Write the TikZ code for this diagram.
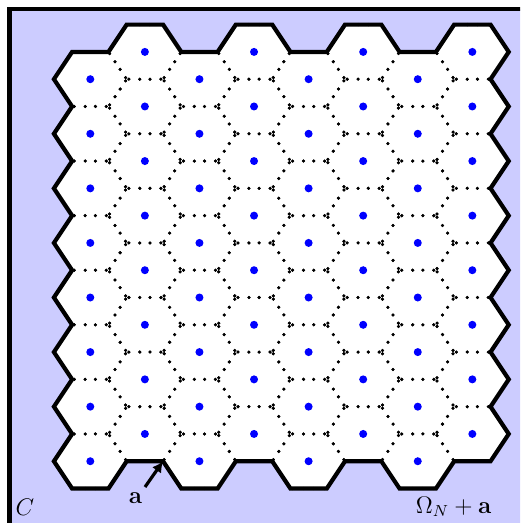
\documentclass[tikz,border=0pt]{standalone}
\usetikzlibrary{arrows.meta}
\definecolor{lav}{RGB}{204,204,255}
\begin{document}
\begin{tikzpicture}[x=0.5pt,y=-0.5pt,
  outline/.style={line width=2.1pt, line join=miter},
  site/.style={fill=blue},
  lbl/.style={font=\fontsize{12}{14}\selectfont, inner sep=0pt}]
\useasboundingbox (0,0) rectangle (520,523);
\clip (0,0) rectangle (520,523);
\filldraw[fill=lav, line width=2.1pt] (9.5,9) rectangle (560,560);
\begin{scope}[shift={(90.3,79.2)}, x=4.548pt, y=-4.548pt]
\def\myboundary{(-4,0) -- (-2,-3) -- (2,-3) -- (4,-6) -- (8,-6) -- (10,-3) -- (14,-3) -- (16,-6) -- (20,-6) -- (22,-3) -- (26,-3) -- (28,-6) -- (32,-6) -- (34,-3) -- (38,-3) -- (40,-6) -- (44,-6) -- (46,-3)
 -- (44,0) -- (46,3) -- (44,6) -- (46,9) -- (44,12) -- (46,15) -- (44,18) -- (46,21) -- (44,24) -- (46,27) -- (44,30) -- (46,33) -- (44,36) -- (46,39) -- (44,42)
 -- (40,42) -- (38,45) -- (34,45) -- (32,42) -- (28,42) -- (26,45) -- (22,45) -- (20,42) -- (16,42) -- (14,45) -- (10,45) -- (8,42) -- (4,42) -- (2,45) -- (-2,45) -- (-4,42)
 -- (-2,39) -- (-4,36) -- (-2,33) -- (-4,30) -- (-2,27) -- (-4,24) -- (-2,21) -- (-4,18) -- (-2,15) -- (-4,12) -- (-2,9) -- (-4,6) -- (-2,3) -- cycle}
\fill[white] \myboundary;
\foreach \c in {0,...,7} {
 \foreach \r in {0,...,7} {
  \pgfmathsetmacro\cx{6*\c}
  \pgfmathsetmacro\cy{6*\r-3*mod(\c,2)}
  \foreach \ax/\ay/\bx/\by in {4/0/2/-3, 2/-3/-2/-3, -2/-3/-4/0, -4/0/-2/3, -2/3/2/3, 2/3/4/0} {
   \foreach \t in {0.06,0.36,0.64,0.94} {
    \fill ({\cx+(\ax)+\t*((\bx)-(\ax))},{\cy+(\ay)+\t*((\by)-(\ay))}) circle (0.82pt);
   }
  }
  \fill[site] (\cx,\cy) circle (2pt);
 }
}
\draw[outline] \myboundary;
\coordinate (tip) at (8,42);
\end{scope}
\coordinate (tail) at (145,487);
\draw[line width=1.6pt, -{Latex[length=5.5pt,width=5.5pt]}] (tail) -- (tip);
\node[lbl, anchor=base] (alabel) at (135.5,503) {$\mathbf{a}$};
\node[lbl, anchor=base] (clabel) at (25,515) {$C$};
\node[lbl, anchor=base] (omlabel) at (453.5,513.3) {$\Omega_N+\mathbf{a}$};
\end{tikzpicture}
\end{document}
